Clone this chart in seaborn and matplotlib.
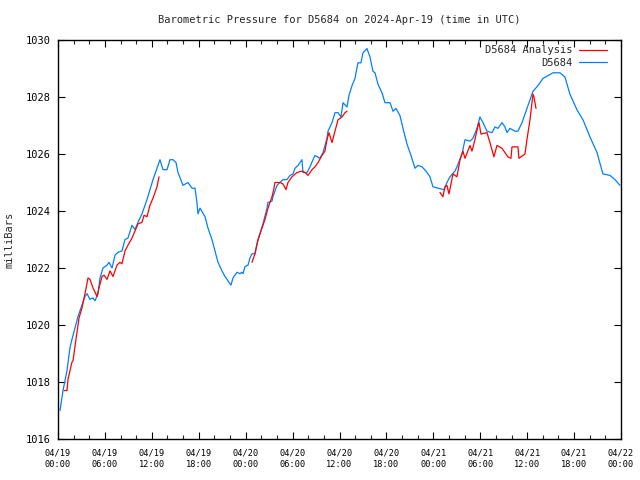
import matplotlib
matplotlib.use("Agg")
import matplotlib.pyplot as plt
import matplotlib.dates as mdates
from matplotlib.lines import Line2D
import seaborn as sns
import pandas as pd
import numpy as np

# ---- data (hours after 2024-04-19 00:00 UTC, pressure in mb) ----
start = "2024-04-19 00:00"
obs_hours = [0.26, 0.64, 1.15, 1.53, 1.79, 2.17, 2.56, 3.07, 3.45, 3.71, 4.09, 4.48, 4.73, 5.12,
             5.37, 5.75, 6.27, 6.52, 6.91, 7.29, 7.67, 8.18, 8.57, 8.95, 9.46, 9.85, 10.23, 10.74,
             11.38, 11.76, 12.15, 12.66, 13.04, 13.43, 13.94, 14.32, 14.71, 15.09, 15.35, 15.98,
             16.62, 17.14, 17.52, 17.77, 17.90, 18.16, 18.80, 19.18, 19.69, 20.08, 20.46, 20.97,
             21.36, 22.12, 22.38, 22.89, 23.27, 23.53, 23.66, 23.91, 24.30, 24.55, 24.81, 25.19,
             25.45, 25.83, 26.21, 26.73, 26.85, 27.37, 27.49, 28.01, 28.39, 28.77, 29.28, 29.67,
             30.05, 30.31, 30.69, 31.20, 31.33, 31.84, 32.23, 32.61, 32.86, 33.50, 33.89, 34.40,
             34.53, 35.04, 35.42, 35.81, 36.19, 36.45, 36.96, 37.21, 37.60, 37.98, 38.36, 38.75,
             39.00, 39.51, 39.90, 40.28, 40.54, 40.92, 41.43, 41.82, 42.46, 42.84, 43.22, 43.73,
             44.12, 44.63, 45.14, 45.65, 46.04, 46.55, 47.06, 47.57, 47.95, 48.59, 49.36, 49.74,
             50.13, 50.77, 51.02, 51.66, 52.05, 52.69, 53.07, 53.58, 53.96, 54.35, 54.86, 55.50,
             55.88, 56.27, 56.78, 57.16, 57.42, 57.80, 58.44, 58.82, 59.34, 59.72, 60.36, 60.74,
             61.38, 62.02, 62.66, 63.30, 64.19, 64.83, 65.47, 66.37, 67.14, 68.03, 68.93, 69.69,
             70.59, 71.23, 71.87]
obs_values = [1017.0, 1017.7, 1018.4, 1019.2, 1019.5, 1019.9, 1020.3, 1020.7, 1021.0, 1021.1,
              1020.9, 1020.95, 1020.85, 1021.1, 1021.65, 1022.0, 1022.1, 1022.2, 1022.0, 1022.45,
              1022.55, 1022.6, 1023.0, 1023.05, 1023.5, 1023.35, 1023.6, 1023.9, 1024.4, 1024.75,
              1025.1, 1025.5, 1025.8, 1025.45, 1025.45, 1025.8, 1025.8, 1025.7, 1025.35, 1024.9,
              1025.0, 1024.8, 1024.8, 1024.3, 1023.9, 1024.1, 1023.8, 1023.4, 1023.0, 1022.6,
              1022.2, 1021.9, 1021.7, 1021.4, 1021.65, 1021.85, 1021.8, 1021.85, 1021.8, 1022.05,
              1022.1, 1022.35, 1022.5, 1022.5, 1022.85, 1023.2, 1023.55, 1024.1, 1024.3, 1024.35,
              1024.5, 1024.9, 1025.0, 1025.1, 1025.1, 1025.25, 1025.3, 1025.5, 1025.6, 1025.8,
              1025.35, 1025.35, 1025.55, 1025.8, 1025.95, 1025.85, 1026.05, 1026.55, 1026.8, 1027.1,
              1027.45, 1027.45, 1027.3, 1027.8, 1027.65, 1028.05, 1028.4, 1028.65, 1029.2, 1029.2,
              1029.55, 1029.7, 1029.4, 1028.9, 1028.85, 1028.45, 1028.15, 1027.8, 1027.8, 1027.5,
              1027.6, 1027.35, 1026.9, 1026.35, 1025.95, 1025.5, 1025.6, 1025.55, 1025.4, 1025.2,
              1024.85, 1024.8, 1024.75, 1025.0, 1025.2, 1025.4, 1025.55, 1026.0, 1026.5, 1026.45,
              1026.55, 1026.9, 1027.3, 1027.1, 1026.8, 1026.75, 1026.95, 1026.9, 1027.1, 1026.95,
              1026.75, 1026.9, 1026.8, 1026.8, 1027.1, 1027.4, 1027.9, 1028.2, 1028.4, 1028.65,
              1028.75, 1028.85, 1028.85, 1028.7, 1028.1, 1027.55, 1027.2, 1026.6, 1026.05, 1025.3,
              1025.25, 1025.1, 1024.9]

ana_hours_1 = [0.77, 1.15, 1.28, 1.79, 1.92, 2.30, 2.69, 3.07, 3.45, 3.84, 4.09, 4.48, 4.99, 5.24,
               5.63, 5.88, 6.27, 6.65, 7.03, 7.54, 7.93, 8.18, 8.57, 8.95, 9.46, 9.85, 10.23, 10.74,
               11.00, 11.38, 11.76, 12.15, 12.66, 12.92]
ana_values_1 = [1017.7, 1017.7, 1018.1, 1018.7, 1018.75, 1019.5, 1020.25, 1020.6, 1021.1, 1021.65,
                1021.6, 1021.3, 1021.0, 1021.3, 1021.7, 1021.75, 1021.6, 1021.9, 1021.7, 1022.1,
                1022.2, 1022.15, 1022.6, 1022.8, 1023.05, 1023.3, 1023.55, 1023.6, 1023.85, 1023.8,
                1024.2, 1024.45, 1024.85, 1025.2]
ana_hours_2 = [24.81, 25.19, 25.58, 26.09, 26.47, 26.85, 27.37, 27.62, 27.75, 28.39, 28.77, 29.16,
               29.41, 29.92, 30.56, 31.20, 31.59, 31.97, 32.48, 32.86, 33.25, 33.76, 34.14, 34.40,
               34.65, 35.04, 35.42, 35.81, 36.32, 36.70, 36.96]
ana_values_2 = [1022.2, 1022.5, 1023.0, 1023.4, 1023.7, 1024.1, 1024.5, 1024.8, 1025.0, 1025.0,
                1024.95, 1024.75, 1025.0, 1025.2, 1025.35, 1025.4, 1025.35, 1025.25, 1025.45,
                1025.55, 1025.7, 1025.95, 1026.1, 1026.5, 1026.75, 1026.4, 1026.8, 1027.2, 1027.3,
                1027.45, 1027.5]
ana_hours_3 = [48.85, 49.23, 49.49, 49.74, 50.00, 50.51, 51.02, 51.41, 51.79, 52.05, 52.69, 52.94,
               53.32, 53.71, 53.84, 54.09, 54.86, 55.24, 55.75, 56.14, 56.78, 57.54, 57.93, 58.06,
               58.82, 58.95, 59.72, 59.97, 60.36, 60.74, 60.87, 61.13]
ana_values_3 = [1024.65, 1024.5, 1024.85, 1024.9, 1024.6, 1025.3, 1025.2, 1025.8, 1026.1, 1025.85,
                1026.3, 1026.1, 1026.5, 1027.0, 1027.1, 1026.7, 1026.75, 1026.4, 1025.9, 1026.3,
                1026.2, 1025.9, 1025.85, 1026.25, 1026.25, 1025.85, 1026.0, 1026.5, 1027.2, 1028.1,
                1028.0, 1027.6]

series_names = ["D5684 Analysis", "D5684"]
series_colors = ["#ff0000", "#0080ff"]
title = "Barometric Pressure for D5684 on 2024-Apr-19 (time in UTC)"
ylabel = "milliBars"
y_ticks = [1016, 1018, 1020, 1022, 1024, 1026, 1028, 1030]

# ---- build table ----
t0 = pd.Timestamp(start)
frames = []
frames.append(pd.DataFrame({"hours": obs_hours, "pressure": obs_values,
                            "series": series_names[1], "seg": "obs"}))
for i, (h, v) in enumerate([(ana_hours_1, ana_values_1), (ana_hours_2, ana_values_2),
                            (ana_hours_3, ana_values_3)]):
    frames.append(pd.DataFrame({"hours": h, "pressure": v,
                                "series": series_names[0], "seg": f"ana{i}"}))
df = pd.concat(frames, ignore_index=True)
df["time"] = t0 + pd.to_timedelta(df["hours"], unit="h")

sns.set_theme(style="ticks")
plt.rcParams["font.family"] = ["DejaVu Sans Mono", "DejaVu Sans"]

fig = plt.figure(figsize=(6.4, 4.8), dpi=100)
ax = fig.add_axes([58 / 640, 1 - 439 / 480, (621 - 58) / 640, (439 - 40) / 480])

palette = dict(zip(series_names, series_colors))
sns.lineplot(data=df, x="time", y="pressure", hue="series", units="seg", estimator=None,
             palette=palette, hue_order=[series_names[1], series_names[0]],
             linewidth=0.9, sort=False, legend=False, ax=ax)

ax.set_xlim(t0, t0 + pd.Timedelta(hours=72))
ax.set_ylim(1016, 1030)
ax.set_yticks(y_ticks)
ax.set_yticklabels([str(v) for v in y_ticks], fontsize=7.5)

ax.xaxis.set_major_locator(mdates.HourLocator(byhour=[0, 6, 12, 18]))
ax.xaxis.set_minor_locator(mdates.HourLocator(interval=2))
ax.xaxis.set_major_formatter(mdates.DateFormatter("%m/%d\n%H:%M"))

ax.tick_params(axis="both", which="major", direction="in", length=5, width=0.8,
               top=True, right=True, colors="black")
ax.tick_params(axis="x", which="minor", direction="in", length=3, width=0.8, top=True)
ax.tick_params(axis="x", which="major", pad=7, labelsize=6.2)
ax.tick_params(axis="y", which="major", pad=5)
fig.canvas.draw()
for lab in ax.get_xticklabels():
    lab.set_linespacing(1.35)
for s in ax.spines.values():
    s.set_visible(True)
    s.set_color("black")
    s.set_linewidth(1.0)

ax.set_xlabel("")
ax.set_ylabel(ylabel, fontsize=7.5, labelpad=8)
fig.text(339 / 640, 1 - 20 / 480, title, ha="center", va="center", fontsize=7.5)

handles = [Line2D([], [], color=c, lw=0.9) for c in series_colors]
ax.legend(handles, series_names, loc="upper right", frameon=False, markerfirst=False,
          fontsize=7.5, handlelength=2.7, handletextpad=0.6, borderaxespad=0.1,
          labelspacing=0.25, bbox_to_anchor=(0.985, 1.0))

fig.savefig("out.png", dpi=100)
